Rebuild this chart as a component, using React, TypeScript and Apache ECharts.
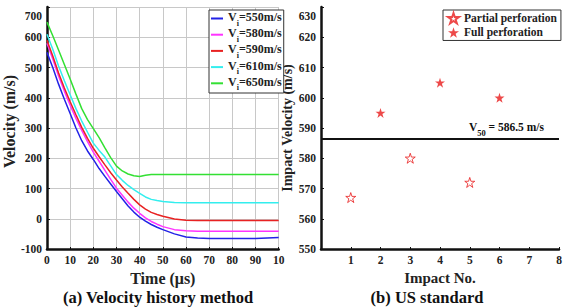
import React, { useEffect, useRef } from "react";
import * as echarts from "echarts";

const FONT = "Liberation Serif";

// Left chart: velocity history
const timeUs = [0, 2.5, 5, 7.5, 10, 12.5, 15, 17.5, 20, 22.5, 25, 27.5, 30, 32.5, 35, 37.5, 40, 42.5, 45, 47.5, 50, 55, 60, 65, 70, 80, 90, 100];
const v550 = [550, 500, 445, 395, 348, 300, 258, 224, 196, 166, 140, 115, 90, 66, 42, 22, 5, -8, -19, -28, -36, -50, -60, -64, -65, -65, -65, -62];
const v580 = [580, 528, 472, 422, 375, 332, 292, 255, 220, 190, 160, 130, 101, 78, 55, 35, 18, 3, -9, -18, -26, -36, -40, -41, -41, -41, -41, -41];
const v590 = [590, 538, 482, 432, 387, 344, 302, 266, 233, 205, 178, 152, 128, 105, 84, 64, 46, 32, 21, 14, 8, -1, -5, -6, -6, -6, -6, -6];
const v610 = [610, 560, 505, 456, 410, 364, 323, 286, 250, 226, 204, 175, 146, 127, 110, 96, 84, 72, 64, 60, 57, 54, 53, 53, 53, 53, 53, 53];
const v650 = [650, 605, 558, 510, 462, 412, 364, 328, 298, 268, 234, 202, 174, 158, 148, 142, 140, 144, 146, 146, 146, 146, 146, 146, 146, 146, 146, 146];
const curveLabels = ["550m/s", "580m/s", "590m/s", "610m/s", "650m/s"];
const curveValues = [v550, v580, v590, v610, v650];
const curveColors = ["#2222e6", "#ff33ff", "#e82222", "#33eeee", "#33e033"];
const timeTickLabels = ["0", "10", "20", "30", "40", "50", "60", "70", "80", "90", "10"];

// Right chart: US standard
const partialNo = [1, 3, 5];
const partialV = [567, 580, 572];
const fullNo = [2, 4, 6];
const fullV = [595, 605, 600];
const v50 = 586.5;

const STAR = "path://M50 0 L61.23 34.55 L97.55 34.55 L68.16 55.9 L79.39 90.45 L50 69.1 L20.61 90.45 L31.84 55.9 L2.45 34.55 L38.77 34.55 Z";

const lbl = { fontFamily: FONT, fontWeight: "bold" as const, fontSize: 11.5, color: "#222" };

export default function App() {
  const ref = useRef<HTMLDivElement>(null);
  useEffect(() => {
    document.body.style.margin = "0";
    const chart = echarts.init(ref.current!, null, { renderer: "svg" });
    const axisLine = { show: true, onZero: false, lineStyle: { color: "#111", width: 2.5 } };
    const nameStyle = { fontFamily: FONT, fontWeight: "bold", fontSize: 15, color: "#222" };
    const option: any = {
      animation: false,
      backgroundColor: "#fff",
      textStyle: { fontFamily: FONT },
      title: [
        { text: "(a) Velocity history method", left: 153, top: 284, textAlign: "center", textStyle: { fontFamily: FONT, fontWeight: "bold", fontSize: 16.5, color: "#111" } },
        { text: "(b) US standard", left: 422, top: 284, textAlign: "center", textStyle: { fontFamily: FONT, fontWeight: "bold", fontSize: 16.5, color: "#111" } },
      ],
      grid: [
        { left: 41.5, right: 286.3, top: 7, bottom: 58 },
        { left: 321, right: 6, top: 7, bottom: 58 },
      ],
      legend: [
        {
          left: 209, top: 10, orient: "vertical",
          data: curveLabels.map((l) => "Vi=" + l),
          icon: "rect", itemWidth: 12, itemHeight: 2, itemGap: 0,
          borderColor: "#333", borderWidth: 1, backgroundColor: "#fff",
          padding: [1, 2, 1, 2],
          formatter: (name: string) => `{v|V}{s|i}{v|${name.slice(2)}}`,
          textStyle: {
            fontFamily: FONT,
            rich: {
              v: { fontFamily: FONT, fontWeight: "bold", fontSize: 12, lineHeight: 17.4, padding: [0, 0, 3, 0], color: "#222" },
              s: { fontFamily: FONT, fontWeight: "bold", fontSize: 8, lineHeight: 8, verticalAlign: "bottom", color: "#222" },
            },
          },
        },
        {
          left: 443, top: 10, orient: "vertical",
          data: ["Partial perforation", "Full perforation"],
          itemWidth: 11, itemHeight: 11, itemGap: 2,
          borderColor: "#333", borderWidth: 1, backgroundColor: "#fff",
          padding: [2, 4, 2, 4],
          textStyle: { fontFamily: FONT, fontWeight: "bold", fontSize: 11.5, color: "#222" },
        },
      ],
      xAxis: [
        {
          gridIndex: 0, type: "value", min: 0, max: 100, interval: 10,
          name: "Time (μs)", nameLocation: "middle", nameGap: 16, nameTextStyle: { ...nameStyle, fontSize: 16 },
          axisLine, axisTick: { show: true, inside: true, length: 2, lineStyle: { color: "#111" } },
          axisLabel: { ...lbl, margin: 5, formatter: (v: number) => timeTickLabels[Math.round(v / 10)] },
          splitLine: { show: true, lineStyle: { color: "#c8c8c8", width: 1 } },
        },
        {
          gridIndex: 1, type: "value", min: 0, max: 8, interval: 1,
          name: "Impact No.", nameLocation: "middle", nameGap: 17, nameTextStyle: nameStyle,
          axisLine, axisTick: { show: true, inside: true, length: 2, lineStyle: { color: "#111" } },
          axisLabel: { ...lbl, margin: 5, showMinLabel: false },
          splitLine: { show: false },
        },
      ],
      yAxis: [
        {
          gridIndex: 0, type: "value", min: -100, max: 700, interval: 100,
          name: "Velocity (m/s)", nameLocation: "middle", nameGap: 25, nameRotate: 90,
          nameTextStyle: { ...nameStyle, fontSize: 16, padding: [0, 0, 0, 13] },
          axisLine, axisTick: { show: true, inside: true, length: 3, lineStyle: { color: "#111" } },
          axisLabel: {
            ...lbl, margin: 5,
            formatter: (v: number) => (v === 700 ? `{t|${v}}` : `${v}`),
            rich: { t: { ...lbl, padding: [18, 0, 0, 0] } },
          },
          splitLine: { show: true, lineStyle: { color: "#c8c8c8", width: 1 } },
        },
        {
          gridIndex: 1, type: "value", min: 550, max: 630, interval: 10,
          name: "Impact Velocity (m/s)", nameLocation: "middle", nameGap: 23, nameRotate: 90,
          nameTextStyle: { ...nameStyle, fontSize: 14 },
          axisLine, axisTick: { show: true, inside: true, length: 3, lineStyle: { color: "#111" } },
          axisLabel: {
            ...lbl, margin: 5,
            formatter: (v: number) => (v === 630 ? `{t|${v}}` : `${v}`),
            rich: { t: { ...lbl, padding: [18, 0, 0, 0] } },
          },
          splitLine: { show: false },
        },
      ],
      series: [
        ...curveLabels.map((l, i) => ({
          name: "Vi=" + l,
          type: "line",
          xAxisIndex: 0, yAxisIndex: 0,
          data: timeUs.map((t, j) => [t, curveValues[i][j]]),
          symbol: "none", showSymbol: false,
          lineStyle: { color: curveColors[i], width: 1.5 },
          itemStyle: { color: curveColors[i] },
          z: 3,
        })),
        {
          name: "Partial perforation", type: "scatter", xAxisIndex: 1, yAxisIndex: 1,
          data: partialNo.map((n, i) => [n, partialV[i]]),
          symbol: STAR, symbolSize: 10,
          itemStyle: { color: "#fff", borderColor: "#e81c1c", borderWidth: 1 },
        },
        {
          name: "Full perforation", type: "scatter", xAxisIndex: 1, yAxisIndex: 1,
          data: fullNo.map((n, i) => [n, fullV[i]]),
          symbol: STAR, symbolSize: 10,
          itemStyle: { color: "#e81c1c" },
          markLine: {
            silent: true, symbol: "none",
            lineStyle: { color: "#111", width: 2, type: "solid" },
            data: [{ yAxis: v50 }],
            label: {
              show: true, position: "insideEndTop", distance: 1,
              padding: [0, 14, 0, 0],
              formatter: () => `{v|V}{s|50}{v| = ${v50} m/s}`,
              rich: {
                v: { fontFamily: FONT, fontWeight: "bold", fontSize: 11.5, lineHeight: 22, color: "#111" },
                s: { fontFamily: FONT, fontWeight: "bold", fontSize: 8.5, lineHeight: 4, verticalAlign: "bottom", color: "#111" },
              },
            },
          },
        },
      ],
    };
    chart.setOption(option);
    return () => chart.dispose();
  }, []);
  return <div ref={ref} style={{ position: "fixed", left: 0, top: 0, width: 565, height: 307, background: "#fff" }} />;
}
